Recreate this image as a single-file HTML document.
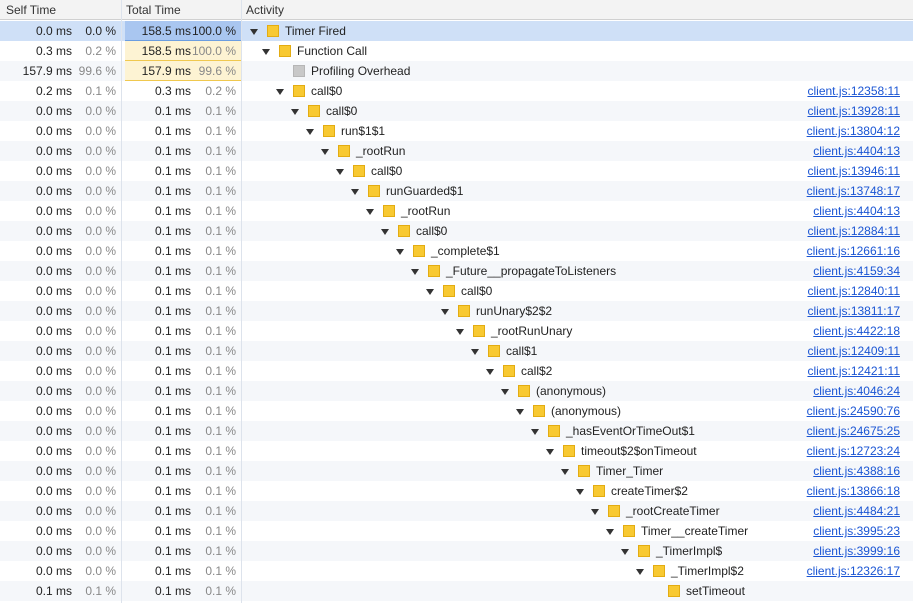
<!DOCTYPE html>
<html><head><meta charset="utf-8"><style>
body{margin:0;width:913px;height:603px;overflow:hidden;background:#fff;font-family:"Liberation Sans",Arial,sans-serif;font-size:12px;color:#222;position:relative}
.h{position:absolute;left:0;top:0;width:913px;height:20px;background:#f3f3f3;border-bottom:1px solid #d0d0d0;box-sizing:border-box}
.h span{position:absolute;top:0;line-height:20px;color:#333}
.r{position:absolute;left:0;width:913px;height:20px;line-height:20px}
.g{background:#f5f7fa}
.s{background:#cfe0f7}
.r span{position:absolute;top:0;white-space:nowrap}
.a{right:841px}.b{right:797px;color:#888}.c{right:722px}.d{right:677px;color:#888}
.l{right:13px;color:#1a55d4;text-decoration:underline}
.tc{position:absolute;left:125px;width:116px;height:19px;top:0}
.ty{background:#fdf3d3;border-bottom:1px solid #f0c84e}
.tb{background:#a9c6f0;border-bottom:1px solid #6b9de0}
.bx{position:absolute;top:4px;width:10px;height:10px;background:#f8c932;border:1px solid #e3ac12}
.gb{background:#c8c8c8;border-color:#b6b6b6}
.tr{position:absolute;top:8px;width:0;height:0;border-left:4px solid transparent;border-right:4px solid transparent;border-top:6px solid #333}
.v{position:absolute;top:0;width:1px;height:603px;background:#dde3ec}
</style></head><body>
<div class="h"><span style="left:6px">Self Time</span><span style="left:126px">Total Time</span><span style="left:246px">Activity</span></div>

<div class="r s" style="top:21px"><div class="tc tb"></div><span class="a">0.0 ms</span><span class="b" style="color:#222">0.0 %</span><span class="c">158.5 ms</span><span class="d" style="color:#222">100.0 %</span><i class="tr" style="left:250px"></i><i class="bx" style="left:267px"></i><span style="left:285px">Timer Fired</span></div>
<div class="r" style="top:41px"><div class="tc ty"></div><span class="a">0.3 ms</span><span class="b">0.2 %</span><span class="c">158.5 ms</span><span class="d">100.0 %</span><i class="tr" style="left:262px"></i><i class="bx" style="left:279px"></i><span style="left:297px">Function Call</span></div>
<div class="r g" style="top:61px"><div class="tc ty"></div><span class="a">157.9 ms</span><span class="b">99.6 %</span><span class="c">157.9 ms</span><span class="d">99.6 %</span><i class="bx gb" style="left:293px"></i><span style="left:311px">Profiling Overhead</span></div>
<div class="r" style="top:81px"><span class="a">0.2 ms</span><span class="b">0.1 %</span><span class="c">0.3 ms</span><span class="d">0.2 %</span><i class="tr" style="left:276px"></i><i class="bx" style="left:293px"></i><span style="left:311px">call$0</span><span class="l">client.js:12358:11</span></div>
<div class="r g" style="top:101px"><span class="a">0.0 ms</span><span class="b">0.0 %</span><span class="c">0.1 ms</span><span class="d">0.1 %</span><i class="tr" style="left:291px"></i><i class="bx" style="left:308px"></i><span style="left:326px">call$0</span><span class="l">client.js:13928:11</span></div>
<div class="r" style="top:121px"><span class="a">0.0 ms</span><span class="b">0.0 %</span><span class="c">0.1 ms</span><span class="d">0.1 %</span><i class="tr" style="left:306px"></i><i class="bx" style="left:323px"></i><span style="left:341px">run$1$1</span><span class="l">client.js:13804:12</span></div>
<div class="r g" style="top:141px"><span class="a">0.0 ms</span><span class="b">0.0 %</span><span class="c">0.1 ms</span><span class="d">0.1 %</span><i class="tr" style="left:321px"></i><i class="bx" style="left:338px"></i><span style="left:356px">_rootRun</span><span class="l">client.js:4404:13</span></div>
<div class="r" style="top:161px"><span class="a">0.0 ms</span><span class="b">0.0 %</span><span class="c">0.1 ms</span><span class="d">0.1 %</span><i class="tr" style="left:336px"></i><i class="bx" style="left:353px"></i><span style="left:371px">call$0</span><span class="l">client.js:13946:11</span></div>
<div class="r g" style="top:181px"><span class="a">0.0 ms</span><span class="b">0.0 %</span><span class="c">0.1 ms</span><span class="d">0.1 %</span><i class="tr" style="left:351px"></i><i class="bx" style="left:368px"></i><span style="left:386px">runGuarded$1</span><span class="l">client.js:13748:17</span></div>
<div class="r" style="top:201px"><span class="a">0.0 ms</span><span class="b">0.0 %</span><span class="c">0.1 ms</span><span class="d">0.1 %</span><i class="tr" style="left:366px"></i><i class="bx" style="left:383px"></i><span style="left:401px">_rootRun</span><span class="l">client.js:4404:13</span></div>
<div class="r g" style="top:221px"><span class="a">0.0 ms</span><span class="b">0.0 %</span><span class="c">0.1 ms</span><span class="d">0.1 %</span><i class="tr" style="left:381px"></i><i class="bx" style="left:398px"></i><span style="left:416px">call$0</span><span class="l">client.js:12884:11</span></div>
<div class="r" style="top:241px"><span class="a">0.0 ms</span><span class="b">0.0 %</span><span class="c">0.1 ms</span><span class="d">0.1 %</span><i class="tr" style="left:396px"></i><i class="bx" style="left:413px"></i><span style="left:431px">_complete$1</span><span class="l">client.js:12661:16</span></div>
<div class="r g" style="top:261px"><span class="a">0.0 ms</span><span class="b">0.0 %</span><span class="c">0.1 ms</span><span class="d">0.1 %</span><i class="tr" style="left:411px"></i><i class="bx" style="left:428px"></i><span style="left:446px">_Future__propagateToListeners</span><span class="l">client.js:4159:34</span></div>
<div class="r" style="top:281px"><span class="a">0.0 ms</span><span class="b">0.0 %</span><span class="c">0.1 ms</span><span class="d">0.1 %</span><i class="tr" style="left:426px"></i><i class="bx" style="left:443px"></i><span style="left:461px">call$0</span><span class="l">client.js:12840:11</span></div>
<div class="r g" style="top:301px"><span class="a">0.0 ms</span><span class="b">0.0 %</span><span class="c">0.1 ms</span><span class="d">0.1 %</span><i class="tr" style="left:441px"></i><i class="bx" style="left:458px"></i><span style="left:476px">runUnary$2$2</span><span class="l">client.js:13811:17</span></div>
<div class="r" style="top:321px"><span class="a">0.0 ms</span><span class="b">0.0 %</span><span class="c">0.1 ms</span><span class="d">0.1 %</span><i class="tr" style="left:456px"></i><i class="bx" style="left:473px"></i><span style="left:491px">_rootRunUnary</span><span class="l">client.js:4422:18</span></div>
<div class="r g" style="top:341px"><span class="a">0.0 ms</span><span class="b">0.0 %</span><span class="c">0.1 ms</span><span class="d">0.1 %</span><i class="tr" style="left:471px"></i><i class="bx" style="left:488px"></i><span style="left:506px">call$1</span><span class="l">client.js:12409:11</span></div>
<div class="r" style="top:361px"><span class="a">0.0 ms</span><span class="b">0.0 %</span><span class="c">0.1 ms</span><span class="d">0.1 %</span><i class="tr" style="left:486px"></i><i class="bx" style="left:503px"></i><span style="left:521px">call$2</span><span class="l">client.js:12421:11</span></div>
<div class="r g" style="top:381px"><span class="a">0.0 ms</span><span class="b">0.0 %</span><span class="c">0.1 ms</span><span class="d">0.1 %</span><i class="tr" style="left:501px"></i><i class="bx" style="left:518px"></i><span style="left:536px">(anonymous)</span><span class="l">client.js:4046:24</span></div>
<div class="r" style="top:401px"><span class="a">0.0 ms</span><span class="b">0.0 %</span><span class="c">0.1 ms</span><span class="d">0.1 %</span><i class="tr" style="left:516px"></i><i class="bx" style="left:533px"></i><span style="left:551px">(anonymous)</span><span class="l">client.js:24590:76</span></div>
<div class="r g" style="top:421px"><span class="a">0.0 ms</span><span class="b">0.0 %</span><span class="c">0.1 ms</span><span class="d">0.1 %</span><i class="tr" style="left:531px"></i><i class="bx" style="left:548px"></i><span style="left:566px">_hasEventOrTimeOut$1</span><span class="l">client.js:24675:25</span></div>
<div class="r" style="top:441px"><span class="a">0.0 ms</span><span class="b">0.0 %</span><span class="c">0.1 ms</span><span class="d">0.1 %</span><i class="tr" style="left:546px"></i><i class="bx" style="left:563px"></i><span style="left:581px">timeout$2$onTimeout</span><span class="l">client.js:12723:24</span></div>
<div class="r g" style="top:461px"><span class="a">0.0 ms</span><span class="b">0.0 %</span><span class="c">0.1 ms</span><span class="d">0.1 %</span><i class="tr" style="left:561px"></i><i class="bx" style="left:578px"></i><span style="left:596px">Timer_Timer</span><span class="l">client.js:4388:16</span></div>
<div class="r" style="top:481px"><span class="a">0.0 ms</span><span class="b">0.0 %</span><span class="c">0.1 ms</span><span class="d">0.1 %</span><i class="tr" style="left:576px"></i><i class="bx" style="left:593px"></i><span style="left:611px">createTimer$2</span><span class="l">client.js:13866:18</span></div>
<div class="r g" style="top:501px"><span class="a">0.0 ms</span><span class="b">0.0 %</span><span class="c">0.1 ms</span><span class="d">0.1 %</span><i class="tr" style="left:591px"></i><i class="bx" style="left:608px"></i><span style="left:626px">_rootCreateTimer</span><span class="l">client.js:4484:21</span></div>
<div class="r" style="top:521px"><span class="a">0.0 ms</span><span class="b">0.0 %</span><span class="c">0.1 ms</span><span class="d">0.1 %</span><i class="tr" style="left:606px"></i><i class="bx" style="left:623px"></i><span style="left:641px">Timer__createTimer</span><span class="l">client.js:3995:23</span></div>
<div class="r g" style="top:541px"><span class="a">0.0 ms</span><span class="b">0.0 %</span><span class="c">0.1 ms</span><span class="d">0.1 %</span><i class="tr" style="left:621px"></i><i class="bx" style="left:638px"></i><span style="left:656px">_TimerImpl$</span><span class="l">client.js:3999:16</span></div>
<div class="r" style="top:561px"><span class="a">0.0 ms</span><span class="b">0.0 %</span><span class="c">0.1 ms</span><span class="d">0.1 %</span><i class="tr" style="left:636px"></i><i class="bx" style="left:653px"></i><span style="left:671px">_TimerImpl$2</span><span class="l">client.js:12326:17</span></div>
<div class="r g" style="top:581px"><span class="a">0.1 ms</span><span class="b">0.1 %</span><span class="c">0.1 ms</span><span class="d">0.1 %</span><i class="bx" style="left:668px"></i><span style="left:686px">setTimeout</span></div>

<div class="v" style="left:121px"></div>
<div class="v" style="left:241px"></div>
</body></html>
